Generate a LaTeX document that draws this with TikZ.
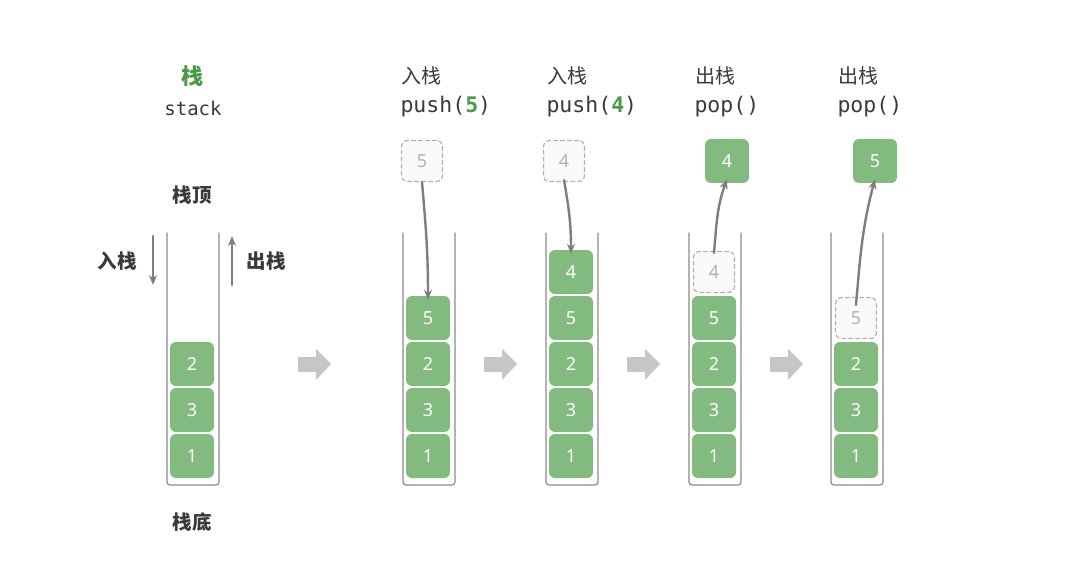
\documentclass[tikz,border=0pt]{standalone}
\usepackage{fontspec}
\setmainfont{Noto Sans}
\setmonofont{DejaVu Sans Mono}
\newfontfamily\cjk{Noto Sans CJK SC}
\usetikzlibrary{arrows.meta}
\definecolor{boxgreen}{HTML}{82BA80}
\definecolor{titlegreen}{HTML}{4A9A48}
\definecolor{txtgray}{HTML}{3A3A3A}
\definecolor{wallgray}{HTML}{8A8A8A}
\definecolor{arrgray}{HTML}{7E7E7E}
\definecolor{blockgray}{HTML}{C6C6C6}
\newcommand{\fs}[1]{\fontsize{#1}{#1}\selectfont}
\begin{document}
\begin{tikzpicture}[x=1pt,y=-1pt,>={Stealth[length=10pt,width=8pt]},line join=round,line cap=round,
    val/.style={fill=boxgreen,rounded corners=6pt,minimum width=44pt,minimum height=44pt,inner sep=0pt,text=white,font=\fs{18}},
    ghost/.style={draw=gray!60,dashed,line width=1.2pt,dash pattern=on 4pt off 3pt,fill=gray!4,rounded corners=6pt,minimum width=41pt,minimum height=41pt,inner sep=0pt,text=gray!60,font=\fs{18}},
    wall/.style={draw=wallgray,line width=1.2pt,rounded corners=3pt},
    head/.style={anchor=west,text=txtgray,font=\cjk\fs{20}},
    code/.style={anchor=west,text=txtgray,font=\ttfamily\fs{21.5}},
    side/.style={text=txtgray,font=\cjk\bfseries\fs{19.5}},
    move/.style={->,draw=arrgray,line width=2.4pt}]
    \useasboundingbox (0,0) rectangle (1086,580);
    % stacks and the three bottom values
    \foreach \cx/\s in {192/a,428/b,571/c,714/d,856/e}{
        \draw[wall] (\cx-25,233) |- (\cx+27,485) -- (\cx+27,233);
        \foreach \v/\cy in {2/364,3/410,1/456}
        \node[val] (\s\v) at (\cx,\cy) {\v};
    }
    % block arrows between the steps
    \foreach \bx in {298,484,627,770}
    \fill[blockgray] (\bx,357)--(\bx+18,357)--(\bx+18,349)--(\bx+33,364)--(\bx+18,380)--(\bx+18,372)--(\bx,372)--cycle;
    % first stack
    \node[text=titlegreen,font=\cjk\bfseries\fs{22}] (title) at (192,76) {栈};
    \node[text=txtgray,font=\ttfamily\fs{19}] (name) at (193,108) {stack};
    \node[side] (top) at (192,195) {栈顶};
    \node[side] (bottom) at (192,522) {栈底};
    \node[side] (inlab) at (117,261) {入栈};
    \node[side] (outlab) at (266,261) {出栈};
    \coordinate (in1) at (153,236); \coordinate (in2) at (153,285);
    \coordinate (out1) at (232,285); \coordinate (out2) at (232,236);
    \draw[move] (in1)--(in2);
    \draw[move] (out1)--(out2);
    % push(5)
    \node[head] (hb) at (398,76) {入栈};
    \node[code] (cb) at (397,107) {push(\textcolor{titlegreen}{\bfseries 5})};
    \node[ghost] (gb) at (422,161) {5};
    \node[val] (b5) at (428,318) {5};
    \draw[move] (gb.south) to[out=-85,in=90] ([yshift=-4pt]b5.north);
    % push(4)
    \node[head] (hc) at (544,76) {入栈};
    \node[code] (cc) at (543,107) {push(\textcolor{titlegreen}{\bfseries 4})};
    \node[ghost] (gc) at (564,161) {4};
    \node[val] (c5) at (571,318) {5};
    \node[val] (c4) at (571,272) {4};
    \draw[move] ([yshift=2pt]gc.south) to[out=-80,in=90] ([yshift=-4pt]c4.north);
    % pop()
    \node[head] (hd) at (692,76) {出栈};
    \node[code] (cd) at (691,107) {pop()};
    \node[val] (d4) at (727,161) {4};
    \node[val] (d5) at (714,318) {5};
    \node[ghost] (gd) at (714,272) {4};
    \draw[move] ([yshift=-2pt]gd.north) to[out=85,in=-110] ([yshift=4pt]d4.south);
    % pop()
    \node[head] (he) at (835,76) {出栈};
    \node[code] (ce) at (834,107) {pop()};
    \node[val] (e5) at (875,161) {5};
    \node[ghost] (ge) at (856,318) {5};
    \draw[move] ([yshift=-8pt]ge.north) to[out=85,in=-105] ([yshift=4pt]e5.south);
\end{tikzpicture}
\end{document}
